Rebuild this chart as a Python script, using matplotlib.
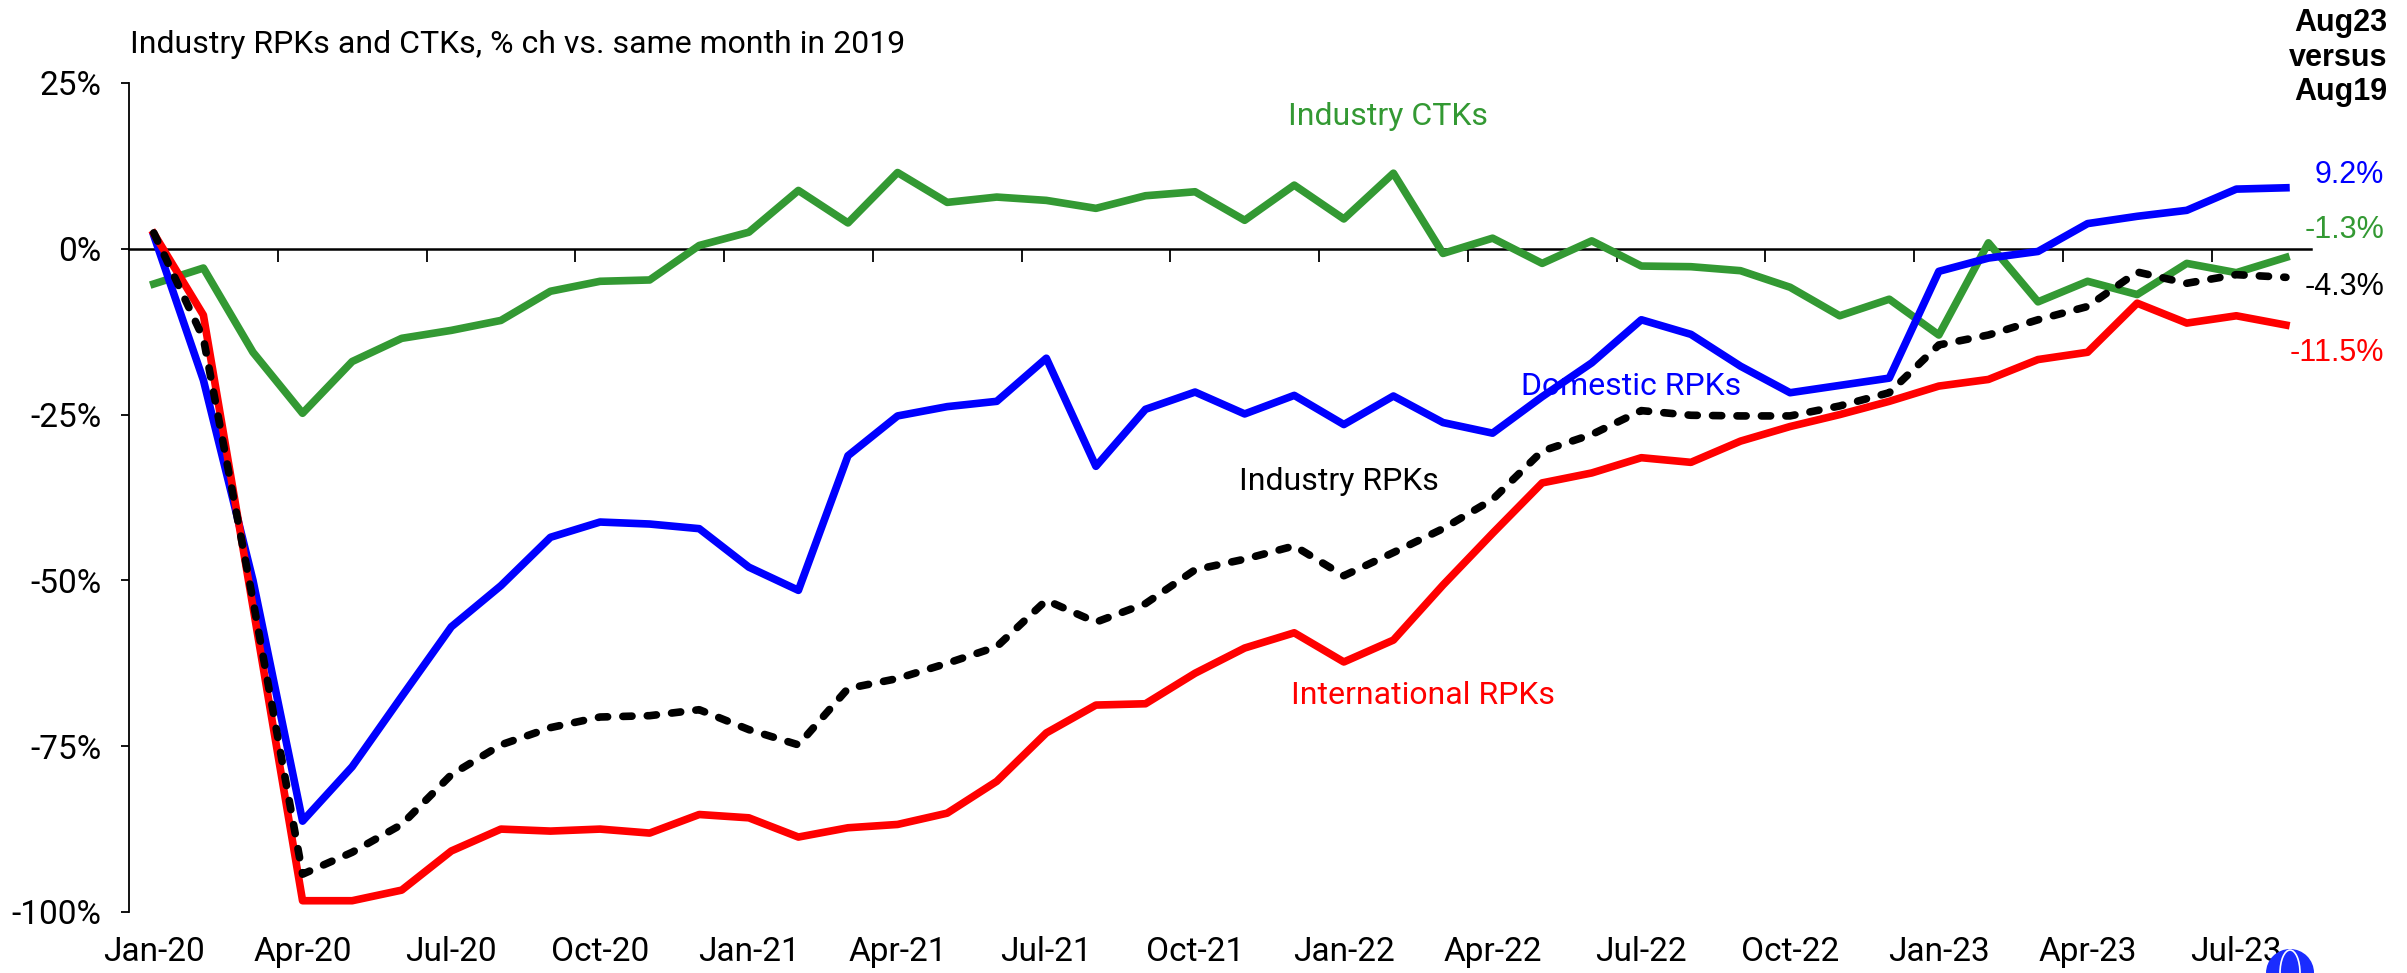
import numpy as np
import matplotlib.pyplot as plt
from matplotlib.patches import Ellipse

# monthly % change vs same month in 2019, Jan-20 .. Aug-23
months = ['Jan-20', 'Feb-20', 'Mar-20', 'Apr-20', 'May-20', 'Jun-20', 'Jul-20', 'Aug-20',
          'Sep-20', 'Oct-20', 'Nov-20', 'Dec-20', 'Jan-21', 'Feb-21', 'Mar-21', 'Apr-21',
          'May-21', 'Jun-21', 'Jul-21', 'Aug-21', 'Sep-21', 'Oct-21', 'Nov-21', 'Dec-21',
          'Jan-22', 'Feb-22', 'Mar-22', 'Apr-22', 'May-22', 'Jun-22', 'Jul-22', 'Aug-22',
          'Sep-22', 'Oct-22', 'Nov-22', 'Dec-22', 'Jan-23', 'Feb-23', 'Mar-23', 'Apr-23',
          'May-23', 'Jun-23', 'Jul-23', 'Aug-23']

intl_rpk = [2.3, -10.0, -54.0, -98.3, -98.3, -96.7, -90.8, -87.5, -87.8, -87.5, -88.1, -85.3,
            -85.8, -88.7, -87.3, -86.8, -85.1, -80.3, -73.0, -68.8, -68.6, -64.0, -60.2, -57.9,
            -62.3, -59.0, -50.7, -42.9, -35.3, -33.8, -31.5, -32.2, -29.0, -26.8, -25.0, -23.0,
            -20.7, -19.7, -16.7, -15.6, -8.2, -11.2, -10.1, -11.5]

dom_rpk = [2.0, -19.8, -50.0, -86.3, -78.1, -67.5, -57.0, -50.8, -43.5, -41.2, -41.5, -42.2,
           -48.0, -51.5, -31.2, -25.2, -23.8, -23.0, -16.5, -32.8, -24.2, -21.6, -24.9, -22.1,
           -26.5, -22.2, -26.2, -27.8, -22.3, -17.2, -10.7, -12.9, -17.7, -21.7, -20.6, -19.5,
           -3.4, -1.4, -0.4, 3.8, 4.9, 5.8, 9.0, 9.2]

ind_rpk = [2.4, -13.5, -53.0, -94.3, -91.0, -86.8, -79.3, -74.8, -72.2, -70.6, -70.4, -69.5,
           -72.5, -74.8, -66.3, -64.8, -62.5, -60.0, -53.0, -56.3, -53.5, -48.4, -46.8, -44.8,
           -49.3, -45.8, -42.2, -37.8, -30.5, -28.0, -24.4, -25.1, -25.2, -25.2, -23.7, -21.7,
           -14.5, -13.0, -10.7, -8.7, -3.5, -5.2, -3.9, -4.3]

ind_ctk = [-5.3, -2.9, -15.6, -24.8, -17.0, -13.5, -12.3, -10.8, -6.4, -4.9, -4.7, 0.5,
           2.5, 8.8, 3.9, 11.5, 7.0, 7.8, 7.3, 6.1, 8.0, 8.6, 4.3, 9.6,
           4.5, 11.4, -0.7, 1.6, -2.2, 1.2, -2.6, -2.7, -3.3, -5.8, -10.1, -7.6,
           -13.0, 0.9, -8.0, -4.9, -6.9, -2.2, -3.6, -1.3]

latest_labels = ['9.2%', '-1.3%', '-4.3%', '-11.5%']

BLUE = '#0000FF'
RED = '#FF0000'
GREEN = '#339933'
main_font = ['Roboto', 'DejaVu Sans']
plain = ['Liberation Sans', 'DejaVu Sans']

x = np.arange(len(months))

fig = plt.figure(figsize=(24.07, 9.73), dpi=100)
ax = fig.add_axes([0.0536, 0.0627, 0.9064, 0.852])

lw = 5.5
ax.plot(x, ind_ctk, color=GREEN, lw=lw, clip_on=False, zorder=3)
ax.plot(x, dom_rpk, color=BLUE, lw=lw, clip_on=False, zorder=4)
ax.plot(x, intl_rpk, color=RED, lw=lw, clip_on=False, zorder=5)
ax.plot(x, ind_rpk, color='black', lw=lw, ls=(0, (1.2, 2.0)), dash_capstyle='round',
        clip_on=False, zorder=6)

ax.set_xlim(-0.5, len(months) - 0.5)
ax.set_ylim(-100, 25)

# y axis
ax.set_yticks([25, 0, -25, -50, -75, -100])
ax.set_yticklabels(['25%', '0%', '-25%', '-50%', '-75%', '-100%'])
ax.tick_params(axis='y', direction='out', length=6, width=1.3, pad=14, labelsize=24)
for lab in ax.get_yticklabels():
    lab.set_family(main_font)
ax.spines['left'].set_linewidth(1.3)
ax.spines['top'].set_visible(False)
ax.spines['right'].set_visible(False)

# zero line carries the tick marks between quarters
ax.spines['bottom'].set_position(('data', 0))
ax.spines['bottom'].set_linewidth(1.8)
ax.set_xticks(np.arange(2.5, len(months) - 1, 3))
ax.tick_params(axis='x', direction='out', length=9, width=1.3, labelbottom=False)

# month labels at the bottom
sec = ax.secondary_xaxis('bottom')
sec.set_xticks(x[::3])
sec.set_xticklabels(months[::3])
sec.spines['bottom'].set_visible(False)
sec.tick_params(axis='x', length=0, pad=17, labelsize=24)
for lab in sec.get_xticklabels():
    lab.set_family(main_font)

# series labels
lab_kw = dict(fontsize=23, family=main_font, ha='center', va='center')
ax.text(24.9, 19.9, 'Industry CTKs', color=GREEN, **lab_kw)
ax.text(29.8, -20.8, 'Domestic RPKs', color=BLUE, **lab_kw)
ax.text(23.9, -35.1, 'Industry RPKs', color='black', **lab_kw)
ax.text(25.6, -67.3, 'International RPKs', color=RED, **lab_kw)

fig.text(0.054, 0.954, 'Industry RPKs and CTKs, % ch vs. same month in 2019', fontsize=23,
         family=main_font, ha='left', va='center')

# latest month comparison on the right
fig.text(0.9917, 0.9405, 'Aug23\nversus\nAug19', fontsize=22, family=plain, fontweight='bold',
         ha='right', va='center', linespacing=1.2)
for txt, col, yy in zip(latest_labels, [BLUE, GREEN, 'black', RED], [0.820, 0.7636, 0.705, 0.637]):
    fig.text(0.9905, yy, txt, color=col, fontsize=22, family=plain, ha='right', va='center')

# partial logo at the bottom right corner
fig.patches.append(Ellipse((0.9514, 0.0), 48 / 2407, 48 / 973, transform=fig.transFigure,
                           facecolor='#1a2cff', edgecolor='none'))
fig.patches.append(Ellipse((0.9514, 0.0), 20 / 2407, 46 / 973, transform=fig.transFigure,
                           facecolor='none', edgecolor='white', lw=1.2))

fig.savefig('out.png', dpi=100)
